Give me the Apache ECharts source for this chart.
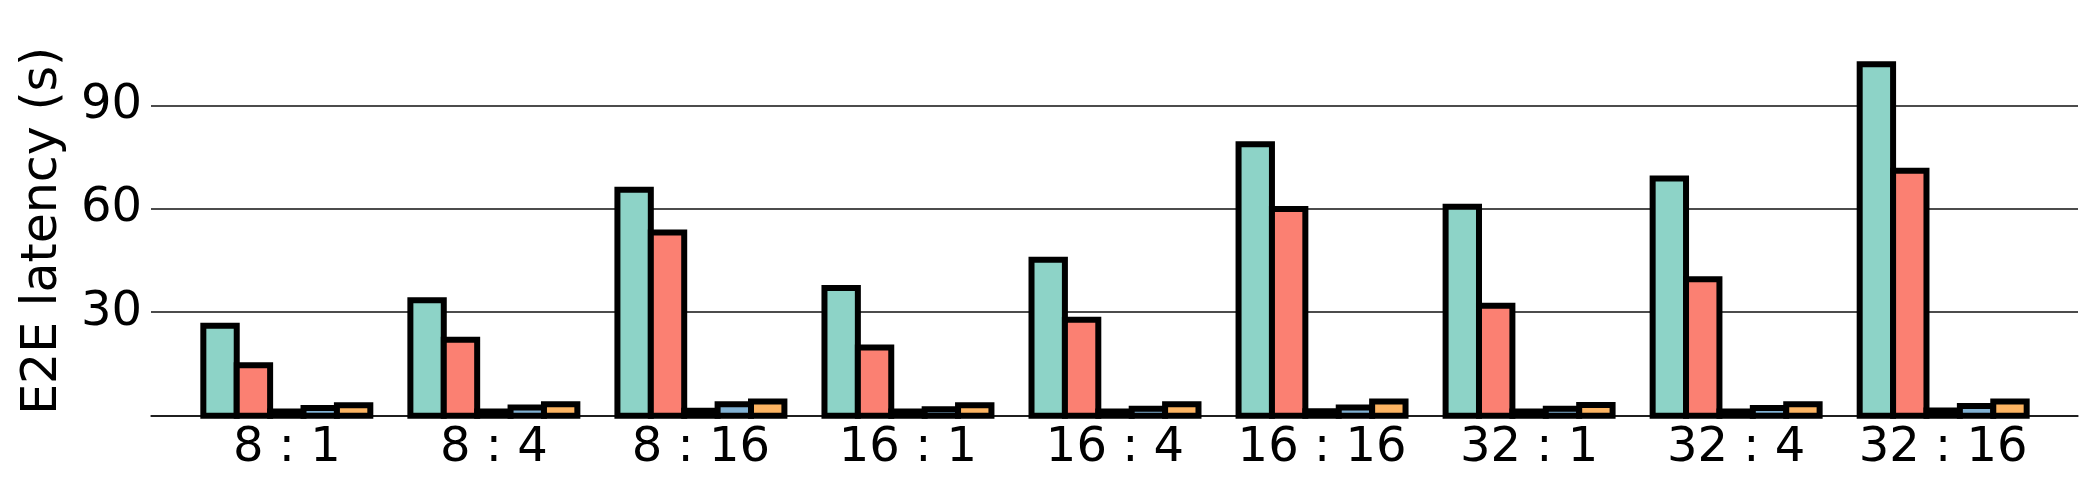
<!DOCTYPE html>
<html>
<head>
<meta charset="utf-8">
<script src="https://cdn.jsdelivr.net/npm/echarts@6/dist/echarts.min.js"></script>
<style>
  html, body { margin: 0; padding: 0; background: #fff; }
  #chart { width: 2100px; height: 495px; }
</style>
</head>
<body>
<div id="chart"></div>
<script>
// tick labels on the x axis
var categories = ['8 : 1', '8 : 4', '8 : 16', '16 : 1', '16 : 4', '16 : 16', '32 : 1', '32 : 4', '32 : 16'];

// E2E latency in seconds
var seriesA = [26.1, 33.5, 65.5, 37.0, 45.2, 78.7, 60.6, 68.8, 101.9];
var seriesB = [14.6, 22.0, 53.1, 19.8, 27.8, 59.9, 31.9, 39.6, 71.0];
var seriesC = [1.2, 1.2, 1.4, 1.2, 1.2, 1.3, 1.2, 1.2, 1.5];
var seriesD = [2.2, 2.4, 3.3, 1.9, 2.0, 2.4, 2.0, 2.2, 2.8];
var seriesE = [3.0, 3.3, 4.1, 3.0, 3.3, 4.1, 3.1, 3.3, 4.1];

var yTicks = [0, 30, 60, 90];

var colors = ['#8dd3c7', '#fb8072', '#bebada', '#80b1d3', '#fdb462'];
var names = ['A', 'B', 'C', 'D', 'E'];
var allData = [seriesA, seriesB, seriesC, seriesD, seriesE];

var font = 'DejaVu Sans';
var barFrac = 0.1613; // bar width as a share of one category band

var chartDom = document.getElementById('chart');
var myChart = echarts.init(chartDom);
var option;

// matplotlib-style bar: edge stroked on the outline (half in, half out)
function makeRenderer(i, n) {
    return function (params, api) {
        var cat = api.value(0);
        var base = api.coord([cat, 0]);
        var top = api.coord([cat, api.value(1)]);
        var band = api.size([1, 0])[0];
        var w = band * barFrac;
        var x = base[0] + (i - (n - 1) / 2) * w - w / 2;
        return {
            type: 'rect',
            shape: { x: x, y: top[1], width: w, height: base[1] - top[1] },
            style: { fill: colors[i], stroke: '#000', lineWidth: 6 },
            z2: 10
        };
    };
}

option = {
    animation: false,
    backgroundColor: '#fff',
    textStyle: { fontFamily: font },
    grid: [
        // bars: one band per category
        { left: 183.3, right: 53.3, top: 46, bottom: 79.3 },
        // grid lines and baseline span the full axes width
        { left: 151, right: 22, top: 105.3, bottom: 79.3 }
    ],
    xAxis: [
        {
            type: 'category',
            gridIndex: 0,
            data: categories,
            axisLine: { show: false },
            axisTick: { show: false },
            axisLabel: { interval: 0, fontSize: 48, color: '#000', margin: 9, fontFamily: font },
            splitLine: { show: false }
        },
        {
            type: 'value',
            gridIndex: 1,
            min: 0,
            max: 1,
            axisLine: { show: true, onZero: false, lineStyle: { color: '#111', width: 1.5 } },
            axisTick: { show: false },
            axisLabel: { show: false },
            splitLine: { show: false }
        }
    ],
    yAxis: [
        {
            type: 'value',
            gridIndex: 0,
            min: 0,
            max: 107.2,
            name: 'E2E latency (s)',
            nameLocation: 'middle',
            nameGap: 116,
            nameTextStyle: { fontSize: 49, color: '#000', fontFamily: font },
            axisLine: { show: false },
            axisTick: { show: false },
            axisLabel: { show: false },
            splitLine: { show: false }
        },
        {
            type: 'value',
            gridIndex: 1,
            min: yTicks[0],
            max: yTicks[yTicks.length - 1],
            interval: 30,
            axisLine: { show: false },
            axisTick: { show: false },
            axisLabel: {
                fontSize: 48,
                color: '#000',
                margin: 9,
                fontFamily: font,
                formatter: function (v) { return v === 0 ? '' : String(v); }
            },
            splitLine: { show: true, lineStyle: { color: '#111', width: 1.5 } }
        }
    ],
    series: allData.map(function (d, i) {
        return {
            type: 'custom',
            name: names[i],
            xAxisIndex: 0,
            yAxisIndex: 0,
            clip: false,
            z: 3,
            encode: { x: 0, y: 1 },
            renderItem: makeRenderer(i, allData.length),
            data: d.map(function (v, j) { return [j, v]; })
        };
    })
};

option && myChart.setOption(option);
</script>
</body>
</html>
